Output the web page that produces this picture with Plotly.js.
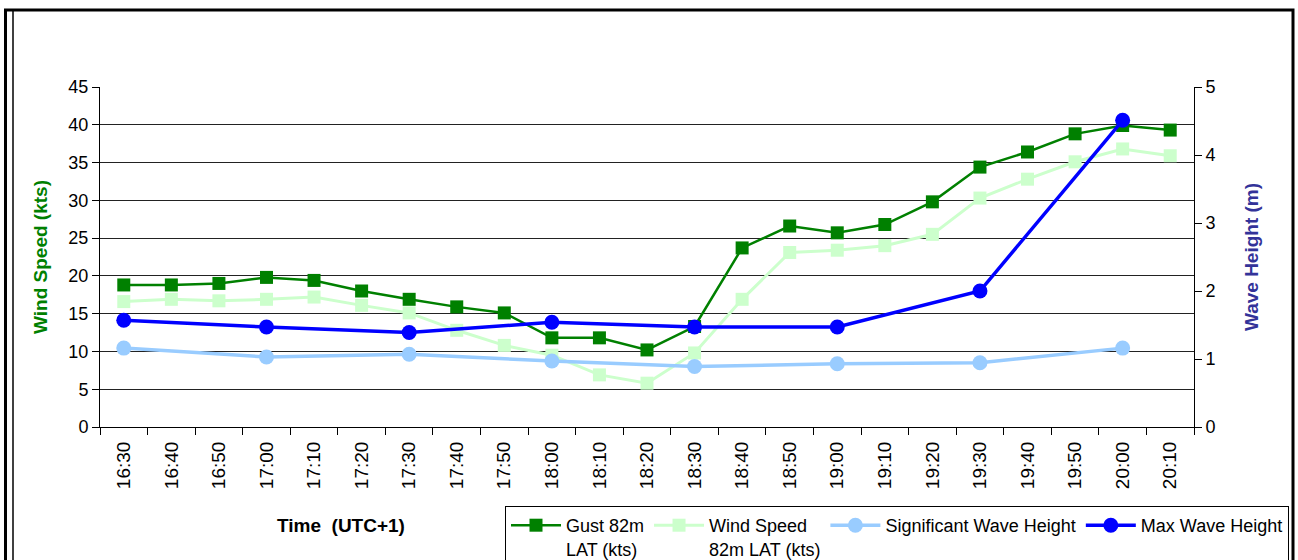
<!DOCTYPE html>
<html>
<head>
<meta charset="utf-8">
<script src="https://cdn.plot.ly/plotly-3.0.1.min.js"></script>
<style>
html,body{margin:0;padding:0;background:#fff;}
#chart{width:1298px;height:560px;}
</style>
</head>
<body>
<div id="chart"></div>
<script>
var times = ["16:30","16:40","16:50","17:00","17:10","17:20","17:30","17:40","17:50","18:00","18:10","18:20","18:30","18:40","18:50","19:00","19:10","19:20","19:30","19:40","19:50","20:00","20:10"];
var gust = [18.8,18.8,19.0,19.8,19.4,18.0,16.9,15.9,15.1,11.8,11.8,10.2,13.3,23.7,26.6,25.7,26.8,29.8,34.4,36.4,38.8,39.9,39.3];
var windSpeed = [16.6,16.9,16.7,16.9,17.2,16.1,15.1,12.8,10.8,9.5,6.9,5.8,9.8,16.9,23.1,23.4,24.0,25.5,30.3,32.8,35.1,36.8,35.9];
var sigWave = [1.16,null,null,1.03,null,null,1.07,null,null,0.97,null,null,0.89,null,null,0.93,null,null,0.945,null,null,1.16,null];
var maxWave = [1.57,null,null,1.47,null,null,1.39,null,null,1.54,null,null,1.47,null,null,1.47,null,null,2.0,null,null,4.51,null];

var traces = [
  {x: times, y: gust, name: "Gust 82m<br>LAT (kts)", type: "scatter", mode: "lines+markers",
   line: {color: "#008000", width: 2.5}, marker: {symbol: "square", size: 13, color: "#008000"}, yaxis: "y"},
  {x: times, y: windSpeed, name: "Wind Speed<br>82m LAT (kts)", type: "scatter", mode: "lines+markers",
   line: {color: "#CCFFCC", width: 3}, marker: {symbol: "square", size: 13, color: "#CCFFCC"}, yaxis: "y"},
  {x: times, y: sigWave, name: "Significant Wave Height", type: "scatter", mode: "lines+markers", connectgaps: true,
   line: {color: "#99CCFF", width: 3.5}, marker: {symbol: "circle", size: 15, color: "#99CCFF"}, yaxis: "y2"},
  {x: times, y: maxWave, name: "Max Wave Height", type: "scatter", mode: "lines+markers", connectgaps: true,
   line: {color: "#0000FF", width: 3.5}, marker: {symbol: "circle", size: 15, color: "#0000FF"}, yaxis: "y2"}
];

var W = 1298, H = 560;
var L = 100, R = 1194, T = 87, B = 427;
function px(x){ return (x - L) / (R - L); }
function py(y){ return (B - y) / (B - T); }

var layout = {
  width: W, height: H,
  margin: {l: L, r: W - R, t: T, b: H - B, pad: 0},
  paper_bgcolor: "#fff", plot_bgcolor: "#fff",
  font: {family: "Liberation Sans, Arial, sans-serif", size: 18, color: "#000"},
  showlegend: true,
  xaxis: {
    type: "category", range: [-0.5, 22.5], automargin: false,
    showline: true, linecolor: "#000", linewidth: 1,
    ticks: "outside", tickson: "boundaries", ticklen: 7, tickcolor: "#000",
    tickangle: -90, tickfont: {size: 19}, ticklabelstandoff: 6, showgrid: false, zeroline: false
  },
  yaxis: {
    range: [0, 45], dtick: 5, tick0: 0, automargin: false,
    showline: true, linecolor: "#000", linewidth: 1,
    ticks: "outside", ticklen: 7, tickcolor: "#000",
    showgrid: true, gridcolor: "#222", gridwidth: 1.2, zeroline: false,
    title: {text: "Wind Speed (kts)", font: {size: 19, color: "#008000", weight: "bold"}, standoff: 15},
    tickfont: {size: 18}
  },
  yaxis2: {
    range: [0, 5], dtick: 1, tick0: 0, overlaying: "y", side: "right", automargin: false,
    showline: true, linecolor: "#000", linewidth: 1,
    ticks: "outside", ticklen: 7, tickcolor: "#000",
    showgrid: false, zeroline: false,
    title: {text: "Wave Height (m)", font: {size: 19, color: "#333399", weight: "bold"}, standoff: 30},
    tickfont: {size: 18}
  },
  legend: {
    orientation: "h", xref: "container", yref: "container",
    x: 505 / W, y: 1 - 506 / H, xanchor: "left", yanchor: "top",
    bordercolor: "#000", borderwidth: 1, bgcolor: "#fff",
    font: {family: "Liberation Sans, Arial, sans-serif", size: 18},
    valign: "top", traceorder: "normal", itemwidth: 50
  },
  annotations: [
    {text: "<b>Time  (UTC+1)</b>", xref: "paper", yref: "paper", x: px(341), y: py(525),
     xanchor: "center", yanchor: "middle", showarrow: false, font: {size: 19, color: "#000"}}
  ],
  shapes: [
    {type: "rect", xref: "paper", yref: "paper", x0: px(5.5), x1: px(1293), y0: py(620), y1: py(10),
     line: {color: "#000", width: 3}, layer: "below"},
    {type: "line", xref: "paper", yref: "paper", x0: px(13), x1: px(13), y0: py(620), y1: py(11),
     line: {color: "#000", width: 1.5}}
  ]
};

Plotly.newPlot("chart", traces, layout, {displayModeBar: false, staticPlot: true});
</script>
</body>
</html>
